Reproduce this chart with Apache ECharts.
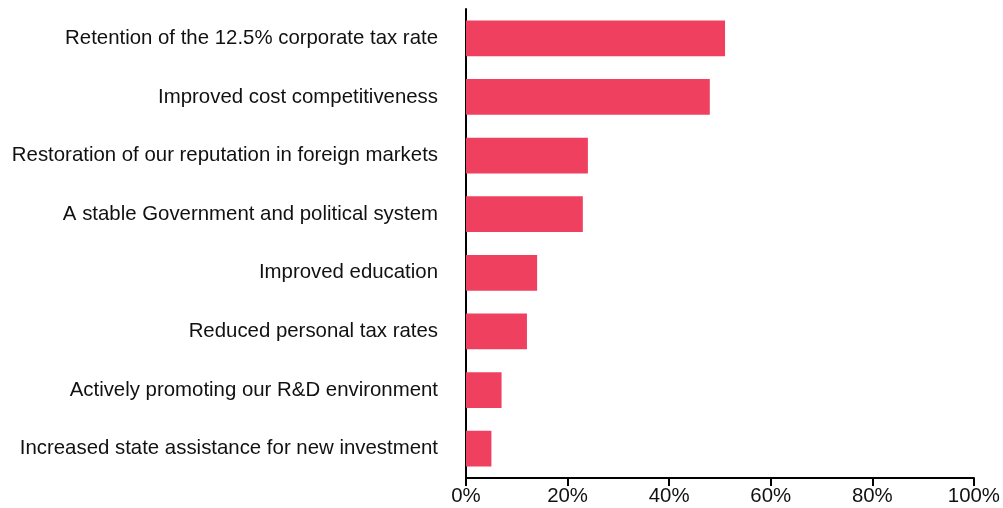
<!DOCTYPE html>
<html>
<head>
<meta charset="utf-8">
<script src="https://cdn.jsdelivr.net/npm/echarts@6/dist/echarts.min.js"></script>
<style>
  html, body { margin: 0; padding: 0; background: #fff; }
  #chart { width: 1003px; height: 508px; }
</style>
</head>
<body>
<div id="chart"></div>
<script>
// Survey factors, listed top to bottom
const categories = [
  'Retention of the 12.5% corporate tax rate',
  'Improved cost competitiveness',
  'Restoration of our reputation in foreign markets',
  'A stable Government and political system',
  'Improved education',
  'Reduced personal tax rates',
  'Actively promoting our R&D environment',
  'Increased state assistance for new investment'
];
// Share of respondents (%)
const values = [51, 48, 24, 23, 14, 12, 7, 5];
const xTicks = [0, 20, 40, 60, 80, 100];

const chart = echarts.init(document.getElementById('chart'));
const font = 'Liberation Sans, Arial, Helvetica, sans-serif';

chart.setOption({
  animation: false,
  grid: { left: 466, right: 29, top: 9, bottom: 30, containLabel: false },
  xAxis: {
    type: 'value',
    min: xTicks[0],
    max: xTicks[xTicks.length - 1],
    interval: xTicks[1] - xTicks[0],
    axisLine: { show: true, lineStyle: { color: '#000', width: 2 } },
    axisTick: { show: true, length: 8, lineStyle: { color: '#000', width: 2 } },
    splitLine: { show: false },
    axisLabel: {
      formatter: v => v + '%',
      color: '#111', fontSize: 20.4, fontFamily: font, margin: 8
    }
  },
  yAxis: {
    type: 'category',
    data: categories,
    inverse: true,
    axisLine: { show: true, lineStyle: { color: '#000', width: 2 } },
    axisTick: { show: false },
    axisLabel: { color: '#111', fontSize: 20.4, fontFamily: font, margin: 28 }
  },
  series: [{
    type: 'bar',
    data: values,
    barCategoryGap: '39%',
    itemStyle: { color: '#ef4060' }
  }]
});
</script>
</body>
</html>
